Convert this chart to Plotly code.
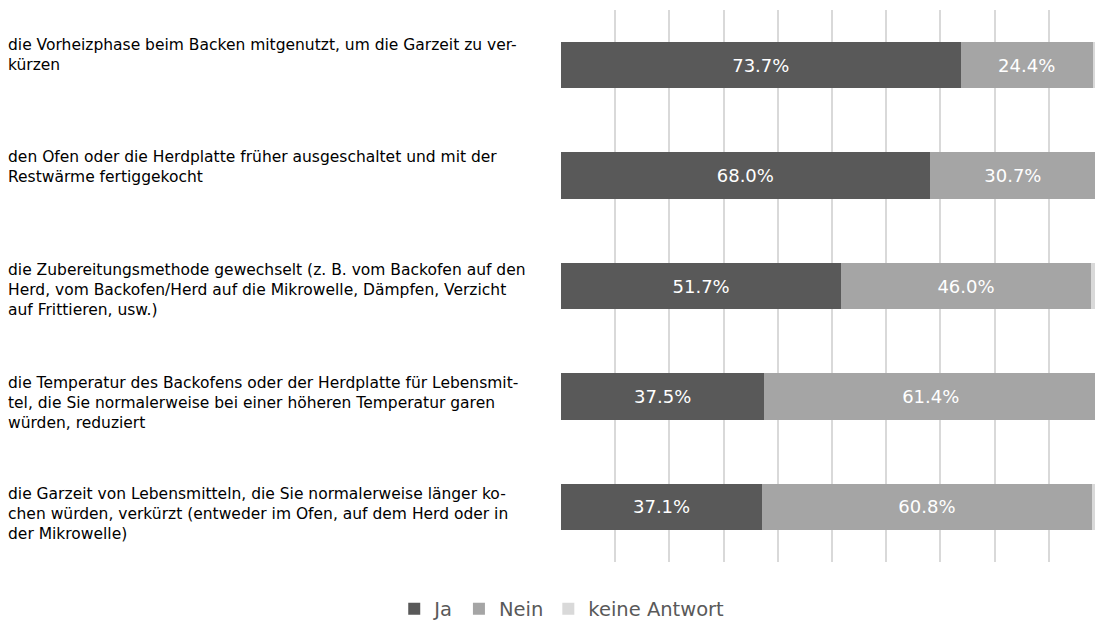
import plotly.graph_objects as go

categories = [
    "die Vorheizphase beim Backen mitgenutzt, um die Garzeit zu ver-<br>kürzen",
    "den Ofen oder die Herdplatte früher ausgeschaltet und mit der<br>Restwärme fertiggekocht",
    "die Zubereitungsmethode gewechselt (z. B. vom Backofen auf den<br>Herd, vom Backofen/Herd auf die Mikrowelle, Dämpfen, Verzicht<br>auf Frittieren, usw.)",
    "die Temperatur des Backofens oder der Herdplatte für Lebensmit-<br>tel, die Sie normalerweise bei einer höheren Temperatur garen<br>würden, reduziert",
    "die Garzeit von Lebensmitteln, die Sie normalerweise länger ko-<br>chen würden, verkürzt (entweder im Ofen, auf dem Herd oder in<br>der Mikrowelle)",
]
ja = [73.7, 68.0, 51.7, 37.5, 37.1]
nein = [24.4, 30.7, 46.0, 61.4, 60.8]
keine = [1.9, 1.3, 2.3, 1.1, 2.1]

series_names = ["Ja", "Nein", "keine Antwort"]
series_colors = ["#595959", "#a5a5a5", "#d9d9d9"]

ids = list(range(len(categories)))
label_shift = [10, 9, -4, -7, -7]

fig = go.Figure()
for name, vals, col, show in zip(series_names, [ja, nein, keine], series_colors, [True, True, False]):
    fig.add_trace(go.Bar(
        y=ids, x=vals, name=name, orientation="h",
        marker=dict(color=col, line=dict(width=0)),
        text=[f"{v:.1f}%" for v in vals] if show else None,
        textposition="inside" if show else "none",
        insidetextanchor="middle",
        insidetextfont=dict(color="white", size=18, family="DejaVu Sans"),
        hoverinfo="skip",
    ))

for i, (cat, sh) in enumerate(zip(categories, label_shift)):
    fig.add_annotation(
        xref="paper", yref="y", x=0, y=i, xanchor="left", yanchor="middle",
        xshift=-555, yshift=sh, text=cat, align="left", showarrow=False,
        font=dict(family="DejaVu Sans", size=15.5, color="#000000"),
    )

fig.update_layout(
    width=1095, height=624,
    barmode="stack", bargap=0.58,
    paper_bgcolor="white", plot_bgcolor="white",
    margin=dict(l=561, r=0, t=10, b=62, autoexpand=False),
    showlegend=True,
    legend=dict(orientation="h", xref="container", yref="container",
                x=0.513, xanchor="center", y=0.024, yanchor="middle",
                font=dict(family="DejaVu Sans", size=19.5, color="#595959"),
                traceorder="normal"),
    uniformtext=dict(minsize=18, mode="show"),
)
fig.update_xaxes(range=[0, 98.5], dtick=10, showgrid=True, gridcolor="#d9d9d9", gridwidth=1.5,
                 showticklabels=False, zeroline=False, showline=False, fixedrange=True)
fig.update_yaxes(autorange="reversed", showticklabels=False, showgrid=False, zeroline=False)

fig.write_html("out.html", config={"displayModeBar": False},
               post_script="document.body.style.margin='0';document.body.style.overflow='hidden';")
